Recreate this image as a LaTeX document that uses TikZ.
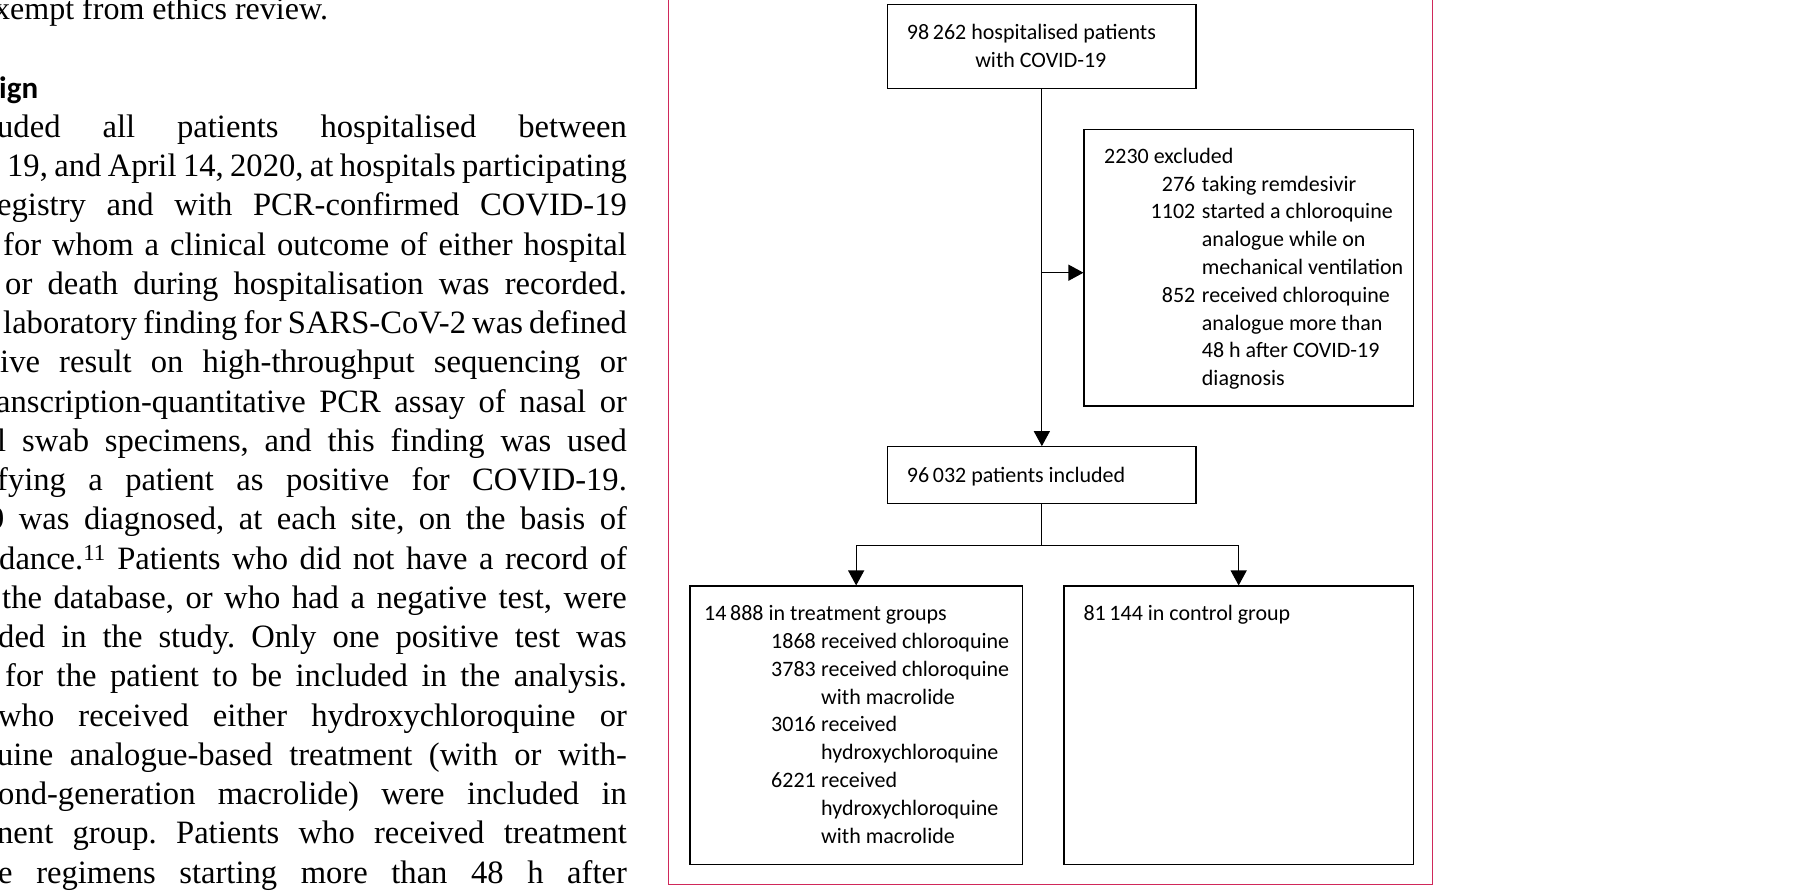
\documentclass[tikz,border=0pt]{standalone}
\usepackage{fontspec}
\setmainfont{Liberation Serif}
\newfontfamily\boxfont{Carlito}
\newfontfamily\headfont{Carlito}
\usetikzlibrary{arrows.meta}
\definecolor{framepink}{RGB}{208,40,90}
\frenchspacing
\newcommand\jline[4]{\pgfmathsetmacro\jw{626.7-(#2)}\node[body] (#1) at (#2,#3) {\makebox[\jw pt][s]{\spaceskip=0.25em plus 0.6em minus 0.12em #4}};}
\begin{document}
\begin{tikzpicture}[x=1pt,y=-1pt,
  box/.style={draw=black, line width=1.1pt, inner sep=0pt},
  lbl/.style={inner sep=0pt, font=\boxfont\fontsize{22}{26}\selectfont},
  lw/.style={lbl, anchor=base west},
  le/.style={lbl, anchor=base east},
  body/.style={inner sep=0pt, font=\fontsize{32.6}{39}\selectfont, anchor=base west},
  arr/.style={-{Triangle[length=15pt,width=16pt]}, line width=1.1pt},
  conn/.style={line width=1.1pt}]
\useasboundingbox (0,0) rectangle (1795,895);
\fill[white] (0,0) rectangle (1795,895);
\begin{scope}
\clip (0,0) rectangle (660,895);
\node[body, font=\fontsize{32}{39}\selectfont] (t0) at (-6,19.3) {xempt from ethics review.};
\node[inner sep=0pt, anchor=base west, font=\headfont\bfseries\fontsize{31}{36}\selectfont] (hd) at (-1,98.3) {ign};
\jline{b0}{-3}{137.3}{uded all patients hospitalised between}
\jline{b1}{7}{176.6}{19, and April 14, 2020, at hospitals participating}
\jline{b2}{-3}{215.8}{egistry and with PCR-confirmed COVID-19}
\jline{b3}{3}{255.1}{for whom a clinical outcome of either hospital}
\jline{b4}{5}{294.3}{or death during hospitalisation was recorded.}
\jline{b5}{3}{333.6}{laboratory finding for SARS-CoV-2 was defined}
\jline{b6}{0}{372.8}{ive result on high-throughput sequencing or}
\jline{b7}{-4}{412.1}{anscription-quantitative PCR assay of nasal or}
\jline{b8}{-3}{451.3}{l swab specimens, and this finding was used}
\jline{b9}{-3}{490.6}{fying a patient as positive for COVID-19.}
\jline{b10}{-12}{529.8}{9 was diagnosed, at each site, on the basis of}
\jline{b11}{-1}{569.1}{dance.\textsuperscript{11} Patients who did not have a record of}
\jline{b12}{2}{608.3}{the database, or who had a negative test, were}
\jline{b13}{-2}{647.6}{ded in the study. Only one positive test was}
\jline{b14}{5}{686.8}{for the patient to be included in the analysis.}
\jline{b15}{-2}{726.1}{who received either hydroxychloroquine or}
\jline{b16}{-3}{765.3}{uine analogue-based treatment (with or with-}
\jline{b17}{-2}{804.6}{ond-generation macrolide) were included in}
\jline{b18}{-3}{843.8}{nent group. Patients who received treatment}
\jline{b19}{-2}{883.1}{e regimens starting more than 48 h after}
\end{scope}
% frame
\draw[framepink, line width=1pt] (668.3,-5) -- (668.3,884.3) -- (1432.7,884.3) -- (1432.7,-5);
% boxes
\node[box, minimum width=308.3pt, minimum height=84pt] (top) at (1041.85,46.7) {};
\node[box, minimum width=329.3pt, minimum height=276.7pt] (excl) at (1248.65,267.65) {};
\node[box, minimum width=308.3pt, minimum height=56.6pt] (incl) at (1041.85,475) {};
\node[box, minimum width=332.3pt, minimum height=278.3pt] (treat) at (856.15,725.15) {};
\node[box, minimum width=349.3pt, minimum height=278.3pt] (ctrl) at (1238.65,725.15) {};
% connectors
\draw[arr] (top.south) -- (incl.north);
\coordinate (ry) at (0,272.7);
\coordinate (j1) at (top.south |- ry);
\draw[arr] (j1) -- (j1 -| excl.west);
\coordinate (sy) at (0,545.7);
\coordinate (j2) at (incl.south |- sy);
\draw[conn] (incl.south) -- (j2);
\draw[arr] (j2) -| (treat.north);
\draw[arr] (j2) -| (ctrl.north);
% labels
\node[lw] (topA) at (906.7,39) {98\,262 hospitalised patients};
\node[lbl, anchor=base] (topB) at (1040.8,67) {with COVID-19};
\node[lw] (ex0) at (1104,163.3) {2230 excluded};
\node[le] (ex1n) at (1195.5,191.1) {276};
\node[lw] (ex1t) at (1201.7,191.1) {taking remdesivir};
\node[le] (ex2n) at (1195.5,218.9) {1102};
\node[lw] (ex2t) at (1201.7,218.9) {started a chloroquine};
\node[lw] (ex3t) at (1201.7,246.7) {analogue while on};
\node[lw] (ex4t) at (1201.7,274.5) {mechanical ventilation};
\node[le] (ex5n) at (1195.5,302.3) {852};
\node[lw] (ex5t) at (1201.7,302.3) {received chloroquine};
\node[lw] (ex6t) at (1201.7,330.1) {analogue more than};
\node[lw] (ex7t) at (1201.7,357.9) {48 h after COVID-19};
\node[lw] (ex8t) at (1201.7,385.7) {diagnosis};
\node[lw] (inA) at (906.7,482.3) {96\,032 patients included};
\node[lw] (tr0) at (704,620.7) {14\,888 in treatment groups};
\node[le] (tr1n) at (816,648.5) {1868};
\node[lw] (tr1t) at (821,648.5) {received chloroquine};
\node[le] (tr2n) at (816,676.3) {3783};
\node[lw] (tr2t) at (821,676.3) {received chloroquine};
\node[lw] (tr3t) at (821,704.1) {with macrolide};
\node[le] (tr4n) at (816,731.9) {3016};
\node[lw] (tr4t) at (821,731.9) {received};
\node[lw] (tr5t) at (821,759.7) {hydroxychloroquine};
\node[le] (tr6n) at (816,787.5) {6221};
\node[lw] (tr6t) at (821,787.5) {received};
\node[lw] (tr7t) at (821,815.3) {hydroxychloroquine};
\node[lw] (tr8t) at (821,843.1) {with macrolide};
\node[lw] (ct0) at (1083.3,620.7) {81\,144 in control group};
\end{tikzpicture}
\end{document}
